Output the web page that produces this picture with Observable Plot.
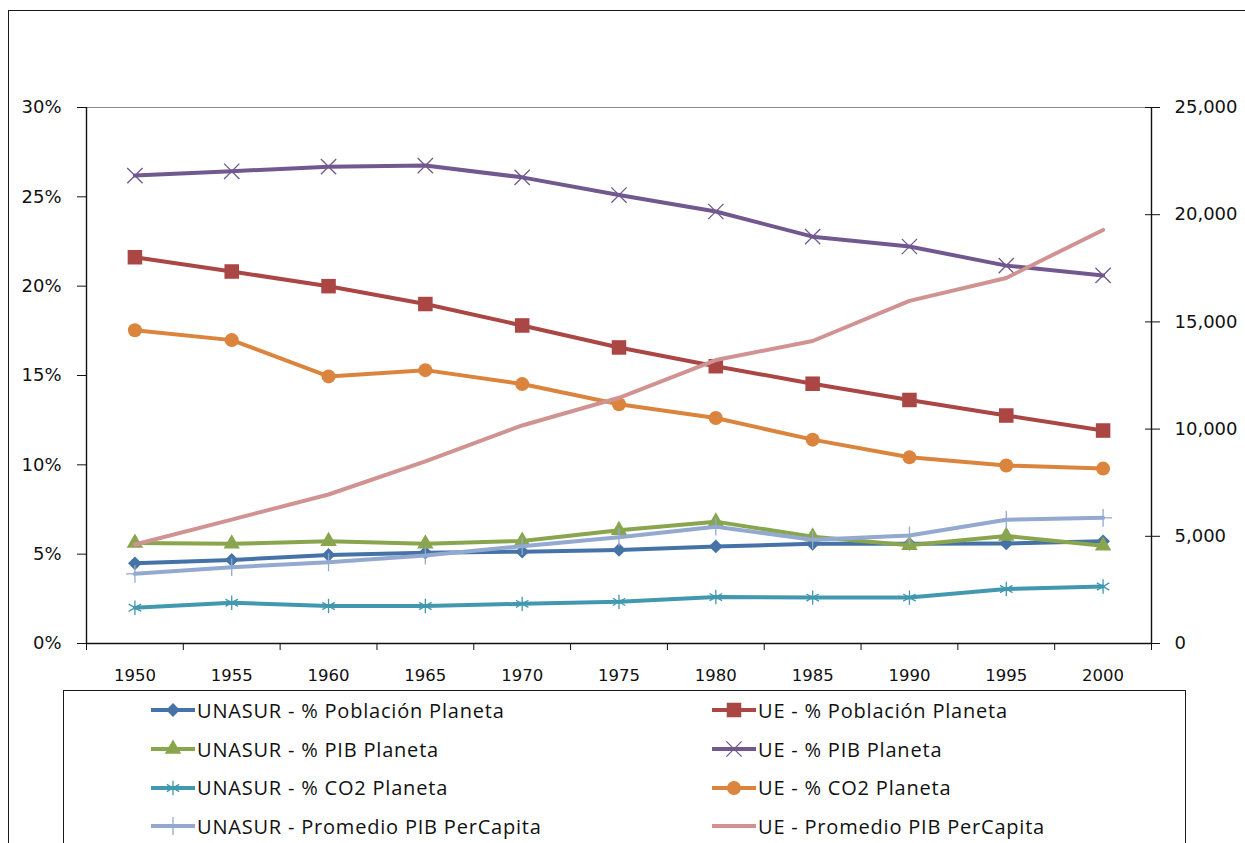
<!DOCTYPE html>
<html>
<head>
<meta charset="utf-8">
<script src="https://cdn.jsdelivr.net/npm/d3@7"></script>
<script src="https://cdn.jsdelivr.net/npm/@observablehq/plot@0.6"></script>
<style>
  html, body { margin: 0; padding: 0; background: #fff; }
  #page { position: relative; width: 1245px; height: 843px; overflow: hidden; background: #fff; }
  #frame { position: absolute; left: 8px; top: 10px; width: 1300px; height: 900px; border: 1.5px solid #1a1a1a; box-sizing: border-box; }
  #chart { position: absolute; left: 0; top: 0; }
  #chart svg text { font-family: "DejaVu Sans", sans-serif; }
  #legend {
    position: absolute; left: 63px; top: 691px; width: 1123px; height: 200px;
    border: 1.5px solid #1a1a1a; box-sizing: border-box; background: #fff;
    display: grid; grid-template-columns: 561px 1fr; grid-auto-rows: 38.7px;
    padding-left: 87px; margin-top: -1px;
    font-family: "Open Sans", "Lato", sans-serif; font-size: 20px; letter-spacing: 0.8px; color: #111;
  }
  .item { display: flex; align-items: center; white-space: nowrap; }
  .item svg { flex: none; margin-right: 2px; }
</style>
</head>
<body>
<div id="page">
  <div id="frame"></div>
  <div id="chart"></div>
  <div id="legend"></div>
</div>
<script>
// Years on the category axis
const years = [1950, 1955, 1960, 1965, 1970, 1975, 1980, 1985, 1990, 1995, 2000];

// Shares of the world total (%), left axis
const unasurPoblacion = [4.49, 4.68, 4.96, 5.08, 5.14, 5.24, 5.43, 5.58, 5.58, 5.6, 5.72];
const uePoblacion     = [21.62, 20.82, 20.0, 19.0, 17.8, 16.57, 15.52, 14.54, 13.63, 12.76, 11.92];
const unasurPIB       = [5.62, 5.58, 5.72, 5.58, 5.74, 6.34, 6.82, 5.97, 5.5, 6.02, 5.47];
const uePIB           = [26.19, 26.43, 26.69, 26.75, 26.09, 25.1, 24.18, 22.77, 22.22, 21.15, 20.6];
const unasurCO2       = [2.0, 2.28, 2.1, 2.1, 2.22, 2.33, 2.6, 2.57, 2.57, 3.05, 3.19];
const ueCO2           = [17.53, 16.98, 14.95, 15.3, 14.52, 13.39, 12.62, 11.41, 10.42, 9.96, 9.79];

// Average GDP per capita, right axis
const unasurPerCapita = [3250, 3560, 3790, 4100, 4540, 4960, 5450, 4840, 5040, 5770, 5860];
const uePerCapita     = [4620, 5780, 6950, 8490, 10170, 11460, 13220, 14110, 15980, 17050, 19290];

// Axis ticks
const leftTicks  = [0, 5, 10, 15, 20, 25, 30];
const rightTicks = [0, 5000, 10000, 15000, 20000, 25000];

const pctMax = 30;
const perCapitaMax = 25000;
const xDomain = [years[0] - 2.5, years[years.length - 1] + 2.5];
const boundaries = years.map(y => y - 2.5).concat([xDomain[1]]);

const series = [
  {name: "UNASUR - % Población Planeta", values: unasurPoblacion, right: false, color: "#4572A7", symbol: "diamond2", r: 6.2, filled: true},
  {name: "UE - % Población Planeta", values: uePoblacion, right: false, color: "#AA4643", symbol: "square", r: 8.2, filled: true},
  {name: "UNASUR - % PIB Planeta", values: unasurPIB, right: false, color: "#89A54E", symbol: "triangle", r: 6.1, filled: true},
  {name: "UE - % PIB Planeta", values: uePIB, right: false, color: "#71588F", symbol: "times", r: 7, filled: false},
  {name: "UNASUR - % CO2 Planeta", values: unasurCO2, right: false, color: "#4198AF", symbol: "asterisk", r: 6.8, filled: false},
  {name: "UE - % CO2 Planeta", values: ueCO2, right: false, color: "#DB843D", symbol: "circle", r: 7, filled: true},
  {name: "UNASUR - Promedio PIB PerCapita", values: unasurPerCapita, right: true, color: "#93A9CF", symbol: "plus", r: 5.8, filled: false},
  {name: "UE - Promedio PIB PerCapita", values: uePerCapita, right: true, color: "#D19392", symbol: null, r: 0, filled: false}
];

// Right-axis values share the percent scale through a linear rescale
const toLeft = v => v * pctMax / perCapitaMax;
const rows = s => years.map((year, i) => ({year, v: s.right ? toLeft(s.values[i]) : s.values[i]}));

const seriesMarks = [];
for (const s of series) {
  const data = rows(s);
  seriesMarks.push(Plot.line(data, {x: "year", y: "v", stroke: s.color, strokeWidth: 4, strokeLinejoin: "round"}));
  if (s.symbol) {
    seriesMarks.push(Plot.dot(data, s.filled
      ? {x: "year", y: "v", symbol: () => s.symbol, r: s.r, fill: s.color, stroke: "none"}
      : {x: "year", y: "v", symbol: () => s.symbol, r: s.r, stroke: s.color, strokeWidth: 1.3, fill: "none"}));
  }
}

const chart = Plot.plot({
  width: 1245,
  height: 690,
  marginLeft: 86,
  marginRight: 94,
  marginTop: 107,
  marginBottom: 47,
  style: {fontFamily: "DejaVu Sans", fontSize: "18px", color: "#111", background: "transparent", overflow: "visible"},
  x: {domain: xDomain, axis: null},
  y: {domain: [0, pctMax], axis: null},
  symbol: {type: "identity"},
  marks: [
    Plot.ruleY([pctMax], {stroke: "#8c8c8c", strokeWidth: 1}),
    Plot.axisY(leftTicks, {anchor: "left", tickSize: 9, tickPadding: 16, label: null, fontSize: 18, tickFormat: d => d + "%"}),
    Plot.axisY(rightTicks.map(toLeft), {anchor: "right", tickSize: 8, tickPadding: 15, label: null, fontSize: 18,
      tickFormat: d => d3.format(",")(Math.round(d * perCapitaMax / pctMax))}),
    Plot.axisY(rightTicks.map(toLeft), {anchor: "right", tickSize: 7, dx: -7, label: null, tickFormat: () => ""}),
    Plot.axisX(boundaries, {anchor: "bottom", tickSize: 7, label: null, tickFormat: () => ""}),
    Plot.axisX(years, {anchor: "bottom", tickSize: 0, tickPadding: 26, label: null, fontSize: 16.5, tickFormat: d => String(d)}),
    Plot.ruleX(xDomain, {stroke: "#111", strokeWidth: 1.4}),
    Plot.ruleY([0], {stroke: "#111", strokeWidth: 1.4}),
    ...seriesMarks
  ]
});
document.getElementById("chart").appendChild(chart);

// Legend: two columns, read row by row in series order
const symbolTypes = {
  diamond2: d3.symbolDiamond2, square: d3.symbolSquare, triangle: d3.symbolTriangle,
  times: d3.symbolTimes, asterisk: d3.symbolAsterisk, circle: d3.symbolCircle, plus: d3.symbolPlus
};
const legend = d3.select("#legend");
for (const s of series) {
  const item = legend.append("div").attr("class", "item");
  const svg = item.append("svg").attr("width", 44).attr("height", 22);
  svg.append("line").attr("x1", 0).attr("x2", 44).attr("y1", 11).attr("y2", 11)
    .attr("stroke", s.color).attr("stroke-width", 4);
  if (s.symbol) {
    const path = d3.symbol(symbolTypes[s.symbol], Math.PI * s.r * s.r)();
    const p = svg.append("path").attr("d", path).attr("transform", "translate(22,11)");
    if (s.filled) p.attr("fill", s.color);
    else p.attr("fill", "none").attr("stroke", s.color).attr("stroke-width", 1.3);
  }
  item.append("span").text(s.name);
}
</script>
</body>
</html>
